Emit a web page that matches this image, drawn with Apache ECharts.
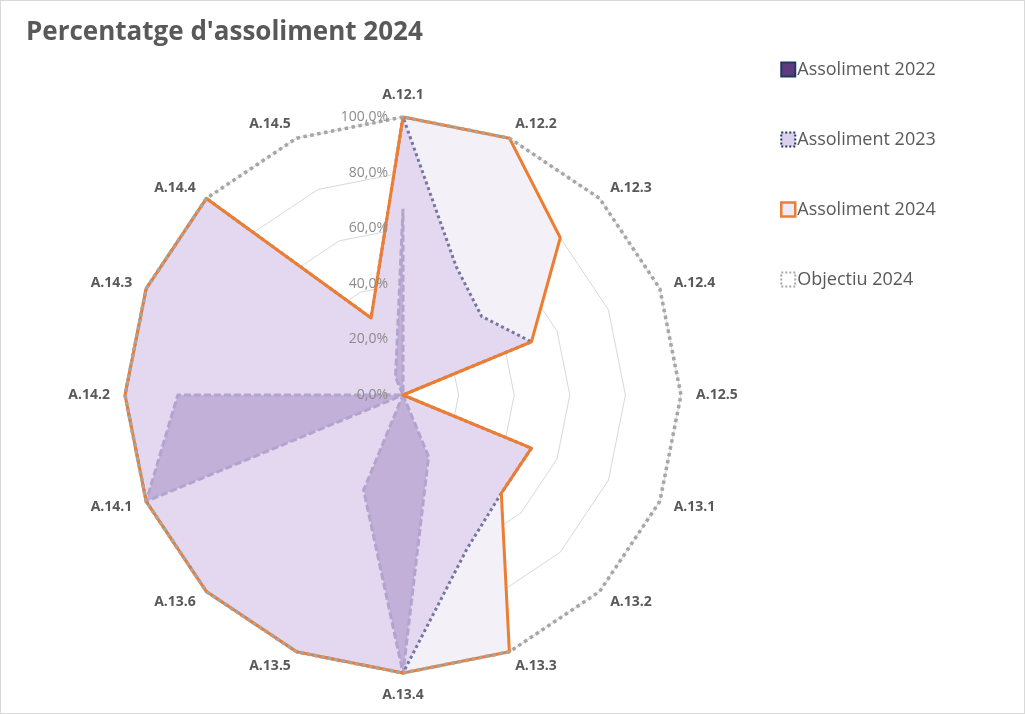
<!DOCTYPE html>
<html>
<head>
<meta charset="utf-8">
<script src="https://cdn.jsdelivr.net/npm/echarts@6/dist/echarts.min.js"></script>
<style>
  html, body { margin: 0; padding: 0; background: #ffffff; }
  #chart { width: 1025px; height: 714px; box-sizing: border-box; border: 1px solid #d9d9d9; }
</style>
</head>
<body>
<div id="chart"></div>
<script>
// Audit controls, listed clockwise from the top
const categories = ['A.12.1', 'A.12.2', 'A.12.3', 'A.12.4', 'A.12.5', 'A.13.1', 'A.13.2', 'A.13.3',
                    'A.13.4', 'A.13.5', 'A.13.6', 'A.14.1', 'A.14.2', 'A.14.3', 'A.14.4', 'A.14.5'];
// Achievement percentages per control
const assoliment2022 = [67, 0, 0, 0, 0, 0, 0, 24, 100, 37, 0, 100, 81, 0, 0, 7];
const assoliment2023 = [100, 50, 40, 50, 0, 50, 50, 60, 100, 100, 100, 100, 100, 100, 100, 30];
const assoliment2024 = [100, 100, 80, 50, 0, 50, 50, 100, 100, 100, 100, 100, 100, 100, 100, 30];
const objectiu2024 = [100, 100, 100, 100, 100, 100, 100, 100, 100, 100, 100, 100, 100, 100, 100, 100];
const seriesNames = ['Assoliment 2022', 'Assoliment 2023', 'Assoliment 2024', 'Objectiu 2024'];
const radialTicks = [0, 20, 40, 60, 80, 100];

// ECharts lays radar axes out counter-clockwise; reorder so the controls run clockwise
const order = [0].concat(categories.map((_, i) => i).slice(1).reverse());
const reorder = arr => order.map(i => arr[i]);

const CENTER = [402, 394];
const RADIUS = 278;
const FONT = '"Open Sans", "Noto Sans", sans-serif';
const fmtPct = v => v.toFixed(1).replace('.', ',') + '%';

const chart = echarts.init(document.getElementById('chart'), null, { renderer: 'canvas' });

const noSymbol = { symbol: 'none' };

chart.setOption({
  animation: false,
  backgroundColor: '#ffffff',
  title: {
    text: "Percentatge d'assoliment 2024",
    left: 20, top: 14,
    textStyle: { fontFamily: FONT, fontSize: 26, fontWeight: 'bold', color: '#595959' }
  },
  legend: {
    orient: 'vertical',
    left: 779, top: 56,
    padding: 0,
    itemWidth: 14, itemHeight: 14, itemGap: 45,
    textStyle: { fontFamily: FONT, fontSize: 18, lineHeight: 25, color: '#595959', padding: [0, 0, 0, -3] },
    data: [
      { name: seriesNames[0], icon: 'rect', itemStyle: { color: '#5e3a7e', borderColor: '#1f3864', borderWidth: 2 } },
      { name: seriesNames[1], icon: 'rect', itemStyle: { color: '#dcd0ec', borderColor: '#1f3864', borderWidth: 2, borderType: [2, 2] } },
      { name: seriesNames[2], icon: 'rect', itemStyle: { color: '#eeeaf6', borderColor: '#ed7d31', borderWidth: 2.5 } },
      { name: seriesNames[3], icon: 'rect', itemStyle: { color: '#ffffff', borderColor: '#a6a6a6', borderWidth: 2, borderType: [2, 2] } }
    ]
  },
  radar: {
    center: CENTER,
    radius: RADIUS,
    startAngle: 90,
    shape: 'polygon',
    splitNumber: 5,
    indicator: reorder(categories).map(name => ({ name: name, min: 0, max: 100 })),
    nameGap: 15,
    axisName: { fontFamily: FONT, fontSize: 14, fontWeight: 'bold', color: '#595959' },
    axisLine: { show: false },
    axisTick: { show: false },
    axisLabel: { show: false },
    splitArea: { show: false },
    splitLine: { lineStyle: { color: '#d9d9d9', width: 1 } }
  },
  // Polar system sharing the radar's geometry, used only for the percentage scale on the top axis
  polar: { center: CENTER, radius: RADIUS },
  angleAxis: { show: false, min: 0, max: 360, startAngle: 90 },
  radiusAxis: {
    min: 0, max: 100, interval: 20,
    z: 10,
    axisLine: { show: false },
    axisTick: { show: false },
    splitLine: { show: false },
    axisLabel: {
      formatter: v => (radialTicks.indexOf(v) >= 0 ? fmtPct(v) : ''),
      fontFamily: FONT, fontSize: 14, color: '#8c8c8c', margin: 15
    }
  },
  series: [
    {
      // filled areas, lightest at the bottom
      type: 'radar',
      silent: true,
      z: 1,
      data: [
        { name: seriesNames[2], value: reorder(assoliment2024), ...noSymbol,
          lineStyle: { width: 0, opacity: 0 }, areaStyle: { color: '#f4f0f8', opacity: 1 } },
        { name: seriesNames[1], value: reorder(assoliment2023), ...noSymbol,
          lineStyle: { width: 0, opacity: 0 }, areaStyle: { color: 'rgba(214,196,232,0.55)', opacity: 1 } },
        { name: seriesNames[0], value: reorder(assoliment2022), ...noSymbol,
          lineStyle: { width: 0, opacity: 0 }, areaStyle: { color: 'rgba(165,140,198,0.52)', opacity: 1 } }
      ]
    },
    {
      // outlines
      type: 'radar',
      z: 2,
      data: [
        { name: seriesNames[0], value: reorder(assoliment2022), ...noSymbol,
          lineStyle: { color: '#b2a4cd', width: 3, type: [7, 3] } },
        { name: seriesNames[1], value: reorder(assoliment2023), ...noSymbol,
          lineStyle: { color: '#7377a4', width: 3, type: [3, 3] } },
        { name: seriesNames[2], value: reorder(assoliment2024), ...noSymbol,
          lineStyle: { color: '#ed7d31', width: 3 } },
        { name: seriesNames[3], value: reorder(objectiu2024), ...noSymbol,
          lineStyle: { color: '#a6a6a6', width: 3.5, type: [3.5, 3.5] } }
      ]
    }
  ]
});
</script>
</body>
</html>
